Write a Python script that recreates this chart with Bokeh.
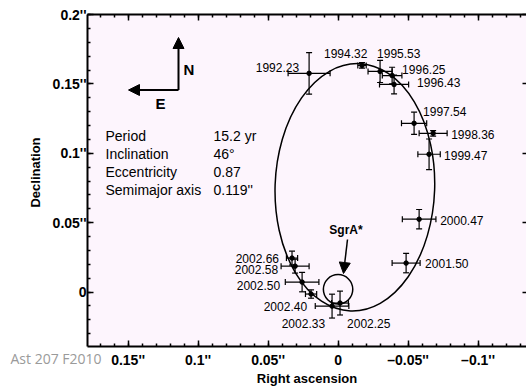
import numpy as np
from bokeh.plotting import figure
from bokeh.models import (ColumnDataSource, Whisker, TeeHead, Arrow, NormalHead, Label,
                          LinearAxis, FixedTicker, Range1d, BoxAnnotation)
from bokeh.embed import file_html
from bokeh.resources import INLINE
from bokeh.core.properties import value

# ---- data (arcsec) ----
years = ["1992.23", "1994.32", "1995.53", "1996.25", "1996.43", "1997.54", "1998.36",
         "1999.47", "2000.47", "2001.50", "2002.25", "2002.33", "2002.40", "2002.50",
         "2002.58", "2002.66"]
ra = [0.0207, -0.0171, -0.0300, -0.0386, -0.0400, -0.0543, -0.0679, -0.0650, -0.0579,
      -0.0486, -0.0014, 0.0043, 0.0193, 0.0257, 0.0307, 0.0329]
dec = [0.1576, 0.1633, 0.1590, 0.1560, 0.1496, 0.1216, 0.1144, 0.0993, 0.0525, 0.0209,
       -0.0079, -0.0101, -0.0014, 0.0072, 0.0187, 0.0245]
ra_err = [0.015, 0.003, 0.0086, 0.007, 0.0104, 0.009, 0.010, 0.008, 0.012, 0.010,
          0.006, 0.012, 0.004, 0.012, 0.010, 0.004]
dec_err = [0.015, 0.002, 0.008, 0.006, 0.0068, 0.008, 0.002, 0.011, 0.007, 0.007,
           0.0086, 0.0086, 0.003, 0.007, 0.005, 0.005]

# label placement (screen px offsets from point)
label_dx = [-10, -38, -3, 10, 23, 9, 18, 15, 21, 19, 7, -7, -4, -22, -17, -13]
label_dy = [-6, -12, -18, -6, -2, -12, 1, 1, 1, 0, 20, 17, 12, 3, 3, 0]
label_align = ["right", "left", "left", "left", "left", "left", "left", "left", "left",
               "left", "left", "right", "right", "right", "right", "right"]

# fitted orbit (apparent ellipse)
orbit_x = [-0.0120]
orbit_y = [0.0755]
orbit_w = [0.114]
orbit_h = [0.1784]
orbit_angle = [-2.0]

sgra_x = [0.0]
sgra_y = [0.002]
sgra_r = 0.0105

params_names = ["Period", "Inclination", "Eccentricity", "Semimajor axis"]
params_values = ["15.2 yr", "46°", "0.87", "0.119''"]

x_ticks = [0.15, 0.1, 0.05, 0.0, -0.05, -0.1]
x_tick_labels = ["0.15''", "0.1''", "0.05''", "0", "\u20130.05''", "\u20130.1''"]
y_ticks = [0.0, 0.05, 0.1, 0.15, 0.2]
y_tick_labels = ["0", "0.05''", "0.1''", "0.15''", "0.2''"]
x_minor = [round(v, 2) for v in np.arange(-0.13, 0.175, 0.01)]
y_minor = [round(v, 2) for v in np.arange(-0.03, 0.205, 0.01)]

# ---- layout (plot box in data units and canvas pixels) ----
W, H = 526, 388
BOX_L, BOX_R = 0.179, -0.1346      # data x at left / right edge of plot box
BOX_B, BOX_T = -0.0392, 0.2        # data y at bottom / top edge of plot box
BOX_PX_L, BOX_PX_R = 87, 526
BOX_PX_T, BOX_PX_B = 14, 346
sx = (BOX_PX_R - BOX_PX_L) / (BOX_L - BOX_R)   # px per unit
sy = (BOX_PX_B - BOX_PX_T) / (BOX_T - BOX_B)


def px_x(px):
    return BOX_L - (px - BOX_PX_L) / sx


def px_y(py):
    return BOX_T - (py - BOX_PX_T) / sy


FONT = "Liberation Sans"

p = figure(width=W, height=H, output_backend="svg", toolbar_location=None,
           x_range=Range1d(px_x(0), px_x(W)), y_range=Range1d(px_y(H), px_y(0)),
           min_border=0, x_axis_location=None, y_axis_location=None)
p.background_fill_color = "white"
p.border_fill_color = "white"
p.outline_line_color = None
p.xgrid.visible = False
p.ygrid.visible = False

# plot box background (extends past the right canvas edge, as in the slide)
p.add_layout(BoxAnnotation(left=px_x(W + 20), right=BOX_L, bottom=BOX_B, top=BOX_T,
                           fill_color="#fdf5fd", fill_alpha=1.0, line_color=None,
                           level="underlay"))


def style_axis(ax):
    ax.axis_line_width = 2
    ax.axis_line_color = "black"
    ax.major_tick_in = 6
    ax.major_tick_out = 0
    ax.minor_tick_in = 3
    ax.minor_tick_out = 0
    ax.major_tick_line_width = 1.5
    ax.minor_tick_line_width = 1.5
    ax.major_tick_line_color = "black"
    ax.minor_tick_line_color = "black"
    ax.major_label_text_font = FONT
    ax.major_label_text_font_style = "bold"
    ax.major_label_text_font_size = "14px"
    ax.major_label_text_color = "black"


xt = FixedTicker(ticks=x_ticks, minor_ticks=x_minor)
yt = FixedTicker(ticks=y_ticks, minor_ticks=y_minor)

xb = LinearAxis(ticker=xt, fixed_location=BOX_B, bounds=(px_x(W + 20), BOX_L),
                major_label_overrides=dict(zip(x_ticks, x_tick_labels)))
style_axis(xb)
xb.major_label_standoff = 5
p.add_layout(xb, "below")

xa = LinearAxis(ticker=xt, fixed_location=BOX_T, bounds=(px_x(W + 20), BOX_L),
                major_label_overrides={t: "" for t in x_ticks})
style_axis(xa)
p.add_layout(xa, "above")

yl = LinearAxis(ticker=yt, fixed_location=BOX_L, bounds=(BOX_B, BOX_T),
                major_label_overrides=dict(zip(y_ticks, y_tick_labels)))
style_axis(yl)
yl.major_label_standoff = 1
p.add_layout(yl, "left")

yr = LinearAxis(ticker=yt, fixed_location=BOX_R, bounds=(BOX_B, BOX_T),
                major_label_overrides={t: "" for t in y_ticks})
style_axis(yr)
yr.axis_line_color = None
yr.minor_tick_line_color = None
yr.major_tick_in = 4
p.add_layout(yr, "right")

# axis titles
p.add_layout(Label(x=px_x(306.5), y=px_y(378), text="Right ascension", text_font=FONT,
                   text_font_style="bold", text_font_size="13px", text_align="center",
                   text_baseline="middle", text_color="black"))
p.add_layout(Label(x=px_x(35), y=px_y(172), text="Declination", text_font=FONT,
                   text_font_style="bold", text_font_size="13px", text_align="center",
                   text_baseline="middle", angle=90, angle_units="deg", text_color="black"))

# orbit
p.ellipse(x=orbit_x, y=orbit_y, width=orbit_w, height=orbit_h, angle=orbit_angle,
          angle_units="deg", fill_color=None, line_color="black", line_width=1.5)

# Sgr A* circle
p.circle(x=sgra_x, y=sgra_y, radius=sgra_r, fill_color=None, line_color="black",
         line_width=1.5)

src = ColumnDataSource(dict(
    year=years, ra=ra, dec=dec,
    ra_lo=[a - e for a, e in zip(ra, ra_err)], ra_hi=[a + e for a, e in zip(ra, ra_err)],
    dec_lo=[d - e for d, e in zip(dec, dec_err)], dec_hi=[d + e for d, e in zip(dec, dec_err)],
    dx=label_dx, dy=label_dy, align=label_align,
))

wh = Whisker(source=src, base="dec", lower="ra_lo", upper="ra_hi", dimension="width",
             line_color="black", line_width=1.2,
             lower_head=TeeHead(size=6, line_color="black", line_width=1.2),
             upper_head=TeeHead(size=6, line_color="black", line_width=1.2))
wv = Whisker(source=src, base="ra", lower="dec_lo", upper="dec_hi", dimension="height",
             line_color="black", line_width=1.2,
             lower_head=TeeHead(size=6, line_color="black", line_width=1.2),
             upper_head=TeeHead(size=6, line_color="black", line_width=1.2))
p.add_layout(wh)
p.add_layout(wv)

p.scatter(x="ra", y="dec", source=src, size=4.5, color="black")

p.text(x="ra", y="dec", text="year", source=src, x_offset="dx", y_offset="dy",
       text_align="align", text_baseline="middle", text_font=value(FONT),
       text_font_size="12px", text_color="black")

# parameter block
for i, (n, v) in enumerate(zip(params_names, params_values)):
    yy = px_y(135 + 18 * i)
    p.add_layout(Label(x=px_x(105), y=yy, text=n, text_font=FONT, text_font_size="14px",
                       text_baseline="middle", text_color="black"))
    p.add_layout(Label(x=px_x(213), y=yy, text=v, text_font=FONT, text_font_size="14px",
                       text_baseline="middle", text_color="black"))

# compass
p.add_layout(Arrow(x_start=px_x(178), y_start=px_y(89.5), x_end=px_x(178), y_end=px_y(37),
                   line_width=2, line_color="black",
                   end=NormalHead(size=11, fill_color="black", line_color="black")))
p.add_layout(Arrow(x_start=px_x(178), y_start=px_y(89.5), x_end=px_x(128), y_end=px_y(89.5),
                   line_width=2, line_color="black",
                   end=NormalHead(size=11, fill_color="black", line_color="black")))
p.add_layout(Label(x=px_x(183), y=px_y(69), text="N", text_font=FONT, text_font_style="bold",
                   text_font_size="15px", text_baseline="middle", text_color="black"))
p.add_layout(Label(x=px_x(160), y=px_y(103), text="E", text_font=FONT, text_font_style="bold",
                   text_font_size="15px", text_baseline="middle", text_align="center",
                   text_color="black"))

# Sgr A* marker
p.add_layout(Label(x=px_x(345.5), y=px_y(229), text="SgrA*", text_font=FONT,
                   text_font_style="bold", text_font_size="12px", text_baseline="middle",
                   text_align="center", text_color="black"))
p.add_layout(Arrow(x_start=px_x(347), y_start=px_y(239), x_end=px_x(343), y_end=px_y(273),
                   line_width=1.5, line_color="black",
                   end=NormalHead(size=11, fill_color="black", line_color="black")))

# slide footer
p.add_layout(Label(x=px_x(10), y=px_y(358), text="Ast 207 F2010", text_font="Open Sans",
                   text_font_size="14px", text_baseline="middle", text_color="#9a9a9a"))

open("out.html", "w").write(file_html(p, INLINE))
